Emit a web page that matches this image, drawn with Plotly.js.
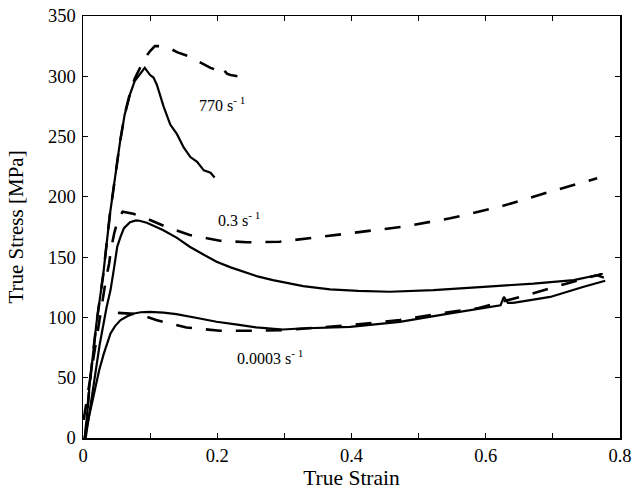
<!DOCTYPE html>
<html>
<head>
<meta charset="utf-8">
<script src="https://cdn.plot.ly/plotly-3.0.1.min.js"></script>
<style>html,body{margin:0;padding:0;background:#fff;}#chart{width:633px;height:492px;}</style>
</head>
<body>
<div id="chart"></div>
<script>
// 770 s^-1
const x770s = [0.003,0.01,0.02,0.03,0.04,0.046,0.055,0.062,0.07,0.077,0.085,0.092,0.1,0.105,0.11,0.12,0.13,0.14,0.15,0.16,0.17,0.18,0.19,0.196];
const y770s = [0,45,95,135,185,210,245,268,285,296,302,307,301,299,293,275,260,252,241,233,229,222,220,216];
const x770d = [0.003,0.01,0.02,0.03,0.04,0.046,0.055,0.062,0.07,0.077,0.085,0.092,0.1,0.107,0.115,0.125,0.13,0.14,0.15,0.16,0.17,0.18,0.19,0.2,0.205,0.21,0.215,0.22,0.23];
const y770d = [0,45,95,135,185,210,245,268,286,298,307,315,321,325,325,324,323,320,318,316,313,310,307,305,302,305,302,301,300];
// 0.3 s^-1
const x03s = [0.004,0.015,0.025,0.035,0.041,0.046,0.051,0.056,0.061,0.07,0.079,0.084,0.095,0.105,0.119,0.14,0.159,0.18,0.199,0.22,0.239,0.26,0.283,0.305,0.328,0.368,0.41,0.457,0.522,0.597,0.671,0.731,0.756,0.774,0.765,0.776];
const y03s = [0,42,78,108,122.7,140,158.6,167,174,179,180.5,180.2,178.5,176,172.5,166,158.6,152,146.2,141.5,137.9,134,131,128.3,126,123.3,122,121.3,122.7,125.4,128,131,134,136,135,133];
const x03d = [0.001,0.01,0.02,0.034,0.039,0.0415,0.0466,0.052,0.059,0.075,0.094,0.12,0.159,0.204,0.244,0.293,0.348,0.398,0.477,0.547,0.622,0.696,0.766];
const y03d = [15,47,82,131,145,156,170,181,187.7,186,182.2,176,168.4,163.6,162.3,162.8,166.4,169.8,175.3,182.2,191.9,204.3,215.4];
// 0.0003 s^-1
const x3e4s = [0.002,0.01,0.017,0.024,0.031,0.041,0.048,0.056,0.066,0.076,0.086,0.099,0.12,0.139,0.17,0.199,0.23,0.258,0.298,0.323,0.398,0.472,0.547,0.612,0.622,0.627,0.633,0.641,0.696,0.746,0.778];
const y3e4s = [0,20,39.6,56,70,86.7,93,97.8,101,103.3,104.3,104.6,104,102.7,99.5,96.4,94,91.7,90,90.8,92.2,96.3,103.3,108.8,110,117,112,112,117,125.4,130.4];
const x3e4d = [0.052,0.084,0.109,0.154,0.204,0.253,0.303,0.398,0.472,0.532,0.587,0.671,0.721,0.766];
const y3e4d = [103.8,102.7,97.8,91.7,88.9,88.9,89.6,93.6,97.8,103.3,107.5,120,128.2,135];
// labels
const labelText = ['770 s<sup>- 1</sup>','0.3 s<sup>- 1</sup>','0.0003 s<sup>- 1</sup>'];
const labelX = [0.207,0.232,0.278];
const labelY = [277,182,67];
const xTickVals = [0,0.1,0.2,0.3,0.4,0.5,0.6,0.7,0.8];
const xTickText = ['0','','0.2','','0.4','','0.6','','0.8'];
const yTickVals = [0,50,100,150,200,250,300,350];

const solid = {color:'#000', width:2.2};
const dashed = {color:'#000', width:2.6, dash:'16px,14px'};
const traces = [
  {x:x770s, y:y770s, mode:'lines', line:solid},
  {x:x770d, y:y770d, mode:'lines', line:dashed},
  {x:x03s, y:y03s, mode:'lines', line:solid},
  {x:x03d, y:y03d, mode:'lines', line:dashed},
  {x:x3e4s, y:y3e4s, mode:'lines', line:solid},
  {x:x3e4d, y:y3e4d, mode:'lines', line:dashed}
];
const fam = 'Liberation Serif, Times New Roman, serif';
const layout = {
  width:633, height:492,
  margin:{l:83, r:13, t:16, b:54},
  paper_bgcolor:'#fff', plot_bgcolor:'#fff',
  showlegend:false,
  font:{family:fam, size:18, color:'#000'},
  xaxis:{range:[0,0.8], tickvals:xTickVals, ticktext:xTickText, ticks:'inside', ticklen:5, tickwidth:1, tickcolor:'#000',
         tickfont:{family:fam, size:18.5, color:'#000'},
         showline:true, linecolor:'#000', linewidth:1.5, mirror:'ticks', showgrid:false, zeroline:false,
         title:{text:'True Strain', font:{family:fam, size:21.5, color:'#000'}, standoff:3}},
  yaxis:{range:[0,350], tickvals:yTickVals, ticks:'inside', ticklen:5, tickwidth:1, tickcolor:'#000',
         tickfont:{family:fam, size:18.5, color:'#000'}, ticklabelstandoff:2,
         showline:true, linecolor:'#000', linewidth:1.5, mirror:'ticks', showgrid:false, zeroline:false,
         title:{text:'True Stress [MPa]', font:{family:fam, size:21, color:'#000'}, standoff:18}},
  annotations: labelText.map((t,i)=>({x:labelX[i], y:labelY[i], xref:'x', yref:'y', text:t, showarrow:false,
         font:{family:fam, size:16, color:'#000'}}))
};
Plotly.newPlot('chart', traces, layout, {displayModeBar:false, staticPlot:true});
</script>
</body>
</html>
